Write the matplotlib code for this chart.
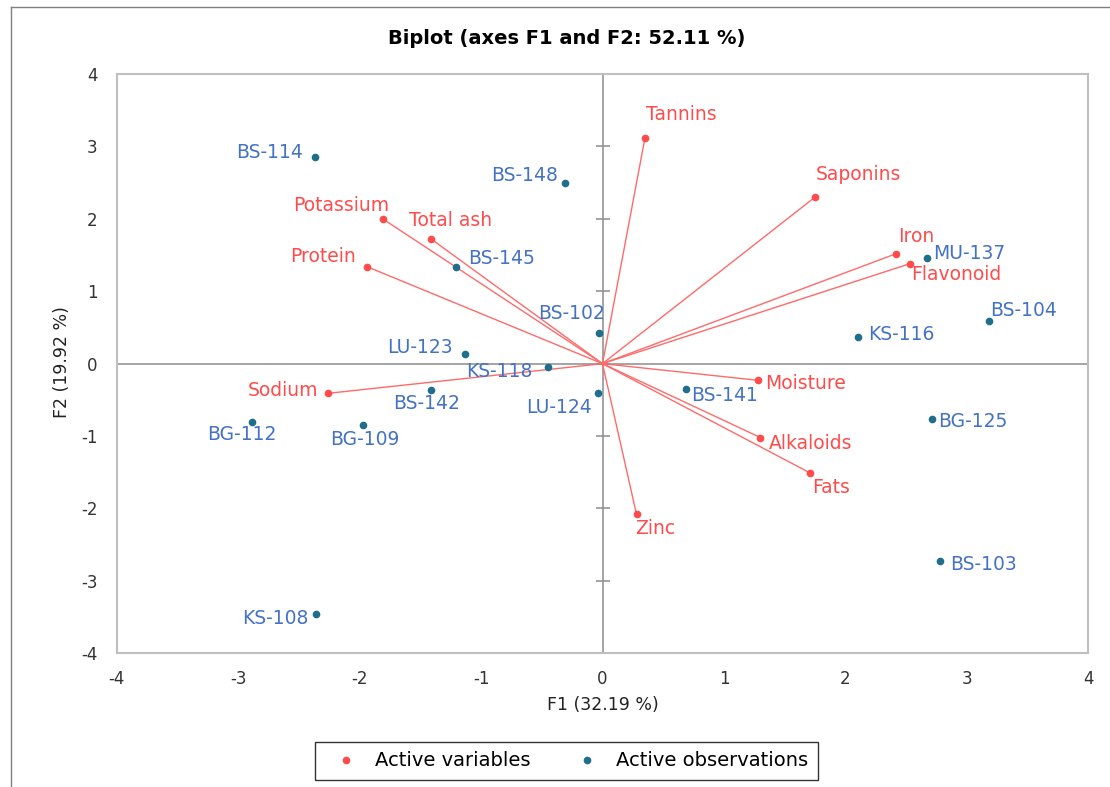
import matplotlib
matplotlib.use("Agg")
import matplotlib.pyplot as plt
from matplotlib.lines import Line2D

# ---- data ----
var_names = ["Tannins", "Saponins", "Iron", "Flavonoid", "Potassium", "Total ash",
             "Protein", "Sodium", "Moisture", "Alkaloids", "Fats", "Zinc"]
var_f1 = [0.35, 1.75, 2.42, 2.53, -1.81, -1.41, -1.94, -2.26, 1.28, 1.30, 1.71, 0.28]
var_f2 = [3.12, 2.30, 1.52, 1.38, 2.00, 1.72, 1.34, -0.41, -0.23, -1.02, -1.51, -2.08]

obs_names = ["BS-114", "BS-148", "BS-145", "BS-102", "LU-123", "KS-118", "MU-137",
             "BS-104", "KS-116", "BS-142", "LU-124", "BG-112", "BG-109", "KS-108",
             "BS-141", "BG-125", "BS-103"]
obs_f1 = [-2.37, -0.31, -1.21, -0.03, -1.13, -0.45, 2.67, 3.18, 2.10, -1.41, -0.04,
          -2.89, -1.97, -2.36, 0.69, 2.71, 2.78]
obs_f2 = [2.86, 2.49, 1.34, 0.43, 0.14, -0.05, 1.46, 0.59, 0.37, -0.36, -0.40,
          -0.81, -0.85, -3.46, -0.35, -0.77, -2.73]

ticks = [-4, -3, -2, -1, 0, 1, 2, 3, 4]
title = "Biplot (axes F1 and F2: 52.11 %)"
xlabel = "F1 (32.19 %)"
ylabel = "F2 (19.92 %)"

# label placement (offset pixels, ha)
var_lab = {
    "Tannins": (1, 23, "left"), "Saponins": (1, 23, "left"), "Iron": (2, 17, "left"),
    "Flavonoid": (1, -11, "left"), "Potassium": (-41, 13, "center"),
    "Total ash": (19, 19, "center"), "Protein": (-11, 10, "right"),
    "Sodium": (-10, 3, "right"), "Moisture": (7, -3, "left"),
    "Alkaloids": (8, -6, "left"), "Fats": (2, -15, "left"), "Zinc": (-1, -14, "left"),
}
obs_lab = {
    "BS-114": (-12, 4, "right"), "BS-148": (-7, 8, "right"), "BS-145": (13, 8, "left"),
    "BS-102": (-27, 19, "center"), "LU-123": (-13, 6, "right"), "KS-118": (-15, -4, "right"),
    "MU-137": (6, 4, "left"), "BS-104": (1, 10, "left"), "KS-116": (11, 2, "left"),
    "BS-142": (-5, -14, "center"), "LU-124": (-6, -15, "right"), "BG-112": (-10, -12, "center"),
    "BG-109": (2, -14, "center"), "KS-108": (-7, -4, "right"), "BS-141": (5, -7, "left"),
    "BG-125": (6, -2, "left"), "BS-103": (10, -3, "left"),
}

RED = "#FF4B4B"
LINE_RED = "#FF6A6A"
DOT_BLUE = "#1F6E8C"
TXT_BLUE = "#4472C4"
GRID = "#8C8C8C"
FRAME = "#BFBFBF"

plt.rcParams["font.family"] = ["DejaVu Sans"]
plt.rcParams["axes.unicode_minus"] = False

fig = plt.figure(figsize=(11.10, 7.87), dpi=100)
ax = fig.add_axes([116.7 / 1110, 1 - 653.3 / 787, (1088.3 - 116.7) / 1110, (653.3 - 74) / 787])

ax.set_xlim(-4, 4)
ax.set_ylim(-4, 4)
ax.axhline(0, color=GRID, lw=1.1, zorder=1)
ax.axvline(0, color=GRID, lw=1.1, zorder=1)
ax.plot([0] * len(ticks), ticks, linestyle="none", marker="_", markersize=10,
        markeredgewidth=1.1, color=GRID, zorder=1, clip_on=False)

for n, x, y in zip(var_names, var_f1, var_f2):
    ax.plot([0, x], [0, y], color=LINE_RED, lw=1.0, zorder=2)
ax.plot(var_f1, var_f2, linestyle="none", marker="o", markersize=4.5, color=RED, zorder=3)
ax.plot(obs_f1, obs_f2, linestyle="none", marker="o", markersize=4.5, color=DOT_BLUE, zorder=3)

for n, x, y in zip(var_names, var_f1, var_f2):
    dx, dy, ha = var_lab[n]
    ax.annotate(n, (x, y), xytext=(dx, dy), textcoords="offset pixels", ha=ha,
                va="center", color=RED, fontsize=13.5, zorder=4)
for n, x, y in zip(obs_names, obs_f1, obs_f2):
    dx, dy, ha = obs_lab[n]
    ax.annotate(n, (x, y), xytext=(dx, dy), textcoords="offset pixels", ha=ha,
                va="center", color=TXT_BLUE, fontsize=13.5, zorder=4)

ax.set_xticks(ticks)
ax.set_yticks(ticks)
ax.tick_params(length=0, labelsize=12, colors="#333333", pad=12)
ax.tick_params(axis="y", pad=14)
for s in ax.spines.values():
    s.set_color(FRAME)
    s.set_linewidth(1.5)

fig.text(567 / 1110, 1 - 38 / 787, title, ha="center", va="center",
         fontsize=14, fontweight="bold", color="black")
fig.text(603 / 1110, 1 - 705 / 787, xlabel, ha="center", va="center",
         fontsize=12.5, color="#222222")
fig.text(62 / 1110, 1 - 362 / 787, ylabel, ha="center", va="center", rotation=90,
         fontsize=12.5, color="#222222")

handles = [Line2D([], [], linestyle="none", marker="o", markersize=4.5, color=RED),
           Line2D([], [], linestyle="none", marker="o", markersize=4.5, color=DOT_BLUE)]
leg = fig.legend(handles, ["Active variables", "Active observations"], ncol=2,
                 loc="center", bbox_to_anchor=(566.5 / 1110, 1 - 761 / 787),
                 frameon=True, fancybox=False, edgecolor="black", handletextpad=0.4,
                 handlelength=2.2, columnspacing=1.8, borderpad=0.5,
                 prop={"size": 14})
leg.get_frame().set_linewidth(1.0)

# figure border (left and top)
fig.add_artist(Line2D([11 / 1110, 11 / 1110], [0, 1 - 7 / 787], transform=fig.transFigure,
                      color="#808080", lw=1.0))
fig.add_artist(Line2D([11 / 1110, 1], [1 - 7 / 787, 1 - 7 / 787], transform=fig.transFigure,
                      color="#808080", lw=1.0))

fig.savefig("out.png", dpi=100)
